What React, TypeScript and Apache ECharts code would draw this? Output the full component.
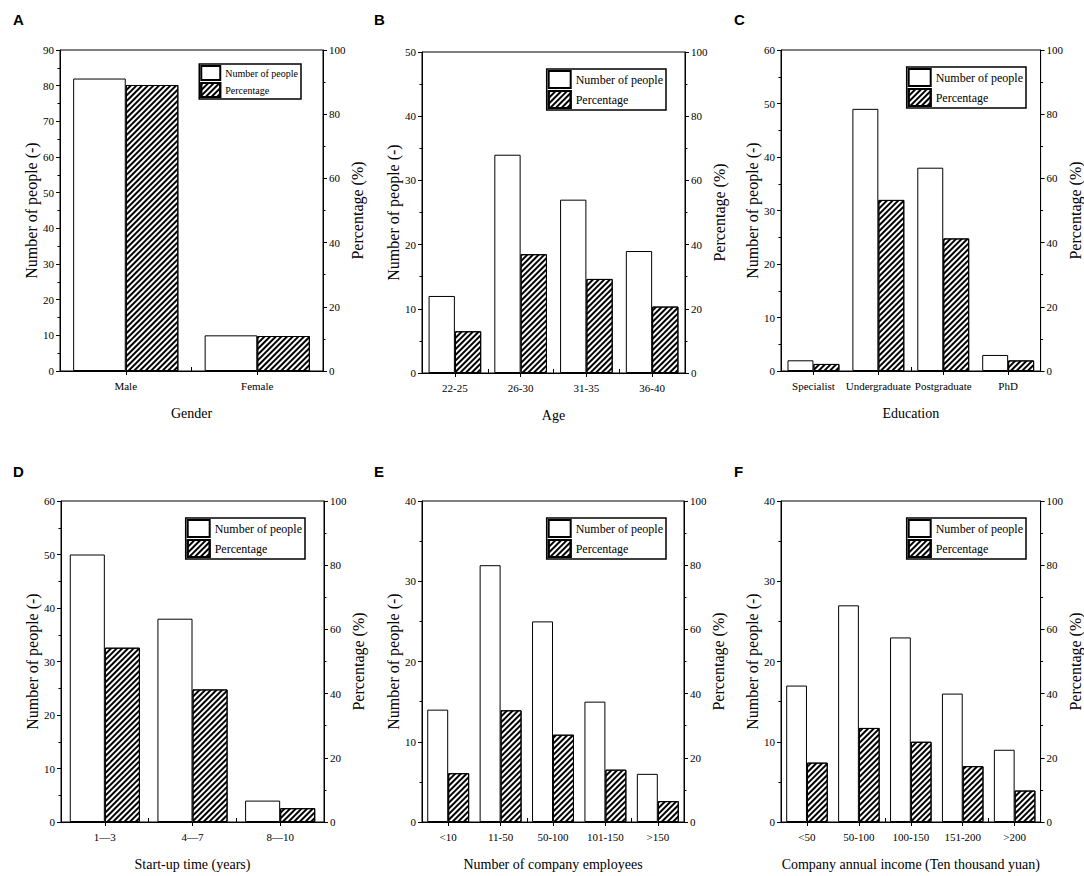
import React, { useEffect, useRef } from "react";
import * as echarts from "echarts";

// ---- data ----
const genderCats = ["Male", "Female"];
const genderPeople = [82, 10];
const genderPct = [89.1, 10.9];

const ageCats = ["22-25", "26-30", "31-35", "36-40"];
const agePeople = [12, 34, 27, 19];
const agePct = [13.0, 37.0, 29.3, 20.7];

const eduCats = ["Specialist", "Undergraduate", "Postgraduate", "PhD"];
const eduPeople = [2, 49, 38, 3];
const eduPct = [2.2, 53.3, 41.3, 3.3];

const startCats = ["1\u20143", "4\u20147", "8\u201410"];
const startPeople = [50, 38, 4];
const startPct = [54.3, 41.3, 4.3];

const empCats = ["<10", "11-50", "50-100", "101-150", ">150"];
const empPeople = [14, 32, 25, 15, 6];
const empPct = [15.2, 34.8, 27.2, 16.3, 6.5];

const incCats = ["<50", "50-100", "100-150", "151-200", ">200"];
const incPeople = [17, 27, 23, 16, 9];
const incPct = [18.5, 29.3, 25.0, 17.4, 9.8];

const leftMaxes = [90, 50, 60, 60, 40, 40];
const xTitles = [
  "Gender",
  "Age",
  "Education",
  "Start-up time (years)",
  "Number of company employees",
  "Company annual income (Ten thousand yuan)",
];
const panelLetters = ["A", "B", "C", "D", "E", "F"];
const seriesNames = ["Number of people", "Percentage"];

const SERIF = "Liberation Serif";

export default function App() {
  const ref = useRef<HTMLDivElement>(null);

  useEffect(() => {
    if (!ref.current) return;
    const chart = echarts.init(ref.current, undefined, { renderer: "svg" });

    const panels = [
      { cats: genderCats, people: genderPeople, pct: genderPct },
      { cats: ageCats, people: agePeople, pct: agePct },
      { cats: eduCats, people: eduPeople, pct: eduPct },
      { cats: startCats, people: startPeople, pct: startPct },
      { cats: empCats, people: empPeople, pct: empPct },
      { cats: incCats, people: incPeople, pct: incPct },
    ];

    const layout = [
      { left: 60, top: 50, width: 263, height: 321 },
      { left: 422, top: 52, width: 263, height: 321 },
      { left: 781, top: 50, width: 264, height: 321 },
      { left: 61, top: 501, width: 263, height: 321 },
      { left: 422, top: 501, width: 262, height: 321 },
      { left: 781, top: 501, width: 263, height: 321 },
    ];
    const legendPos = [
      { right: 783, top: 64, small: true },
      { right: 418, top: 69, small: false },
      { right: 58, top: 67, small: false },
      { right: 779, top: 518, small: false },
      { right: 418, top: 518, small: false },
      { right: 58, top: 518, small: false },
    ];
    const letterPos = [
      [13, 12],
      [374, 12],
      [734, 12],
      [13, 464],
      [374, 464],
      [734, 464],
    ];

    const black = "#000";
    const hatch = {
      symbol: "rect",
      symbolSize: 1,
      color: black,
      backgroundColor: "#fff",
      dashArrayX: [1, 0],
      dashArrayY: [1.5, 1.5],
      rotation: -Math.PI / 4,
    };

    const grid: any[] = [];
    const xAxis: any[] = [];
    const yAxis: any[] = [];
    const series: any[] = [];
    const legend: any[] = [];
    const graphic: any[] = [];

    panels.forEach((p, i) => {
      grid.push({
        ...layout[i],
        show: true,
        borderColor: black,
        borderWidth: 1,
        backgroundColor: "transparent",
        containLabel: false,
      });
      xAxis.push({
        type: "category",
        gridIndex: i,
        data: p.cats,
        boundaryGap: true,
        axisLine: { show: true, lineStyle: { color: black, width: 1 } },
        axisTick: { show: true, alignWithLabel: true, length: 4, lineStyle: { color: black } },
        axisLabel: { interval: 0, color: black, fontFamily: SERIF, fontSize: 11, margin: 9 },
        name: xTitles[i],
        nameLocation: "middle",
        nameGap: 35,
        nameTextStyle: { color: black, fontFamily: SERIF, fontSize: 14 },
      });
      xAxis.push({
        type: "category",
        gridIndex: i,
        data: p.cats,
        boundaryGap: true,
        axisLine: { show: false },
        axisTick: { show: true, alignWithLabel: false, length: 4, lineStyle: { color: black } },
        axisLabel: { show: false },
      });
      yAxis.push({
        type: "value",
        gridIndex: i,
        position: "left",
        min: 0,
        max: leftMaxes[i],
        interval: 10,
        axisLine: { show: true, lineStyle: { color: black, width: 1 } },
        axisTick: { show: true, length: 4, lineStyle: { color: black } },
        minorTick: { show: true, splitNumber: 2, length: 2.5, lineStyle: { color: black } },
        splitLine: { show: false },
        axisLabel: { color: black, fontFamily: SERIF, fontSize: 11, margin: 6 },
        name: "Number of people (-)",
        nameLocation: "middle",
        nameRotate: 90,
        nameGap: 19,
        nameTextStyle: { color: black, fontFamily: SERIF, fontSize: 16 },
      });
      yAxis.push({
        type: "value",
        gridIndex: i,
        position: "right",
        min: 0,
        max: 100,
        interval: 20,
        axisLine: { show: true, lineStyle: { color: black, width: 1 } },
        axisTick: { show: true, length: 4, lineStyle: { color: black } },
        minorTick: { show: true, splitNumber: 2, length: 2.5, lineStyle: { color: black } },
        splitLine: { show: false },
        axisLabel: { color: black, fontFamily: SERIF, fontSize: 11, margin: 6 },
        name: "Percentage (%)",
        nameLocation: "middle",
        nameRotate: 90,
        nameGap: 21,
        nameTextStyle: { color: black, fontFamily: SERIF, fontSize: 16 },
      });
      series.push({
        type: "bar",
        name: seriesNames[0],
        xAxisIndex: 2 * i,
        yAxisIndex: 2 * i,
        data: p.people,
        barWidth: "40%",
        barGap: "0%",
        itemStyle: { color: "#fff", borderColor: black, borderWidth: 1 },
      });
      series.push({
        type: "bar",
        name: seriesNames[1],
        xAxisIndex: 2 * i,
        yAxisIndex: 2 * i + 1,
        data: p.pct,
        barWidth: "40%",
        barGap: "0%",
        itemStyle: { color: "#fff", borderColor: black, borderWidth: 1, decal: hatch },
      });
      const lp = legendPos[i];
      legend.push({
        right: lp.right,
        top: lp.top,
        orient: "vertical",
        itemGap: 1,
        itemWidth: lp.small ? 19 : 22,
        itemHeight: lp.small ? 14 : 17,
        icon: "rect",
        selectedMode: false,
        borderColor: black,
        borderWidth: 1.5,
        padding: [1, 3, 1, 1],
        textStyle: { color: black, fontFamily: SERIF, fontSize: lp.small ? 10 : 12 },
        data: seriesNames,
      });
      graphic.push({
        type: "text",
        left: letterPos[i][0],
        top: letterPos[i][1],
        style: {
          text: panelLetters[i],
          fill: black,
          fontFamily: "Liberation Sans",
          fontWeight: "bold",
          fontSize: 15,
        },
      });
    });

    chart.setOption({
      animation: false,
      backgroundColor: "#fff",
      grid,
      xAxis,
      yAxis,
      series,
      legend,
      graphic,
    });

    return () => chart.dispose();
  }, []);

  return (
    <div
      ref={ref}
      style={{ position: "absolute", left: 0, top: 0, width: 1084, height: 876 }}
    />
  );
}
